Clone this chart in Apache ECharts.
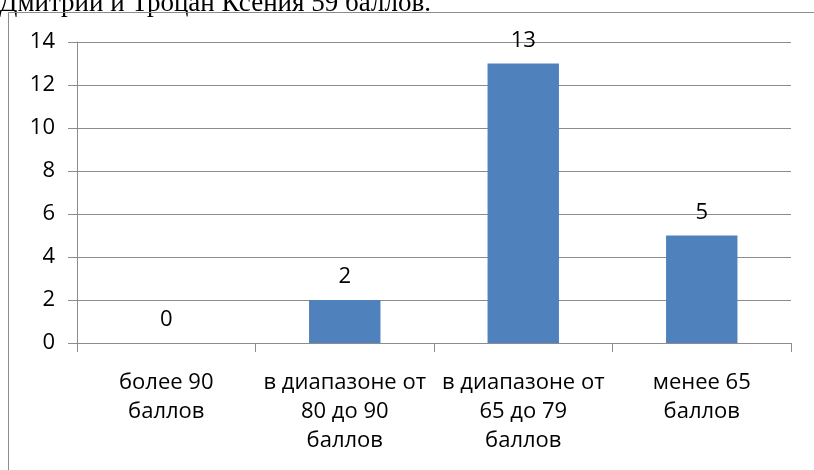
<!DOCTYPE html>
<html>
<head>
<meta charset="utf-8">
<script src="https://cdn.jsdelivr.net/npm/echarts@6/dist/echarts.min.js"></script>
<style>
  html, body { margin: 0; padding: 0; background: #ffffff; }
  #chart { width: 814px; height: 470px; }
</style>
</head>
<body>
<div id="chart"></div>
<script>
// категории и значения
var categories = [
  'более 90\nбаллов',
  'в диапазоне от\n80 до 90\nбаллов',
  'в диапазоне от\n65 до 79\nбаллов',
  'менее 65\nбаллов'
];
var counts = [0, 2, 13, 5];
var yTicks = [0, 2, 4, 6, 8, 10, 12, 14];

var chart = echarts.init(document.getElementById('chart'));
chart.setOption({
  animation: false,
  backgroundColor: '#ffffff',
  textStyle: { fontFamily: 'Open Sans' },
  graphic: [
    {
      // строка текста документа над диаграммой, обрезана сверху
      type: 'text',
      style: {
        x: -1,
        y: -10,
        text: 'Дмитрий и Троцан Ксения 59 баллов.',
        font: '27px "Liberation Serif"',
        fill: '#000000'
      }
    },
    {
      // рамка области диаграммы
      type: 'rect',
      shape: { x: 8.5, y: 12.5, width: 900, height: 600 },
      style: { fill: 'none', stroke: '#8c8c8c', lineWidth: 1 },
      silent: true
    }
  ],
  grid: { left: 77, right: 23, top: 42, bottom: 127 },
  xAxis: {
    type: 'category',
    data: categories,
    axisLine: { lineStyle: { color: '#8c8c8c', width: 1 } },
    axisTick: { show: true, length: 9, interval: 0, lineStyle: { color: '#8c8c8c' } },
    axisLabel: {
      interval: 0,
      margin: 25,
      color: '#000000',
      fontSize: 22,
      lineHeight: 29,
      fontFamily: 'Open Sans'
    }
  },
  yAxis: {
    type: 'value',
    min: yTicks[0],
    max: yTicks[yTicks.length - 1],
    interval: 2,
    axisLine: { show: true, lineStyle: { color: '#8c8c8c', width: 1 } },
    axisTick: { show: true, length: 9, lineStyle: { color: '#8c8c8c' } },
    axisLabel: { margin: 22, color: '#000000', fontSize: 22, fontFamily: 'Open Sans' },
    splitLine: { show: true, lineStyle: { color: '#8c8c8c', width: 1 } }
  },
  series: [
    {
      type: 'bar',
      data: counts,
      barWidth: '40%',
      itemStyle: { color: '#4f81bd' },
      label: {
        show: true,
        position: 'top',
        distance: 12,
        color: '#000000',
        fontSize: 22,
        fontFamily: 'Open Sans'
      }
    }
  ]
});
</script>
</body>
</html>
